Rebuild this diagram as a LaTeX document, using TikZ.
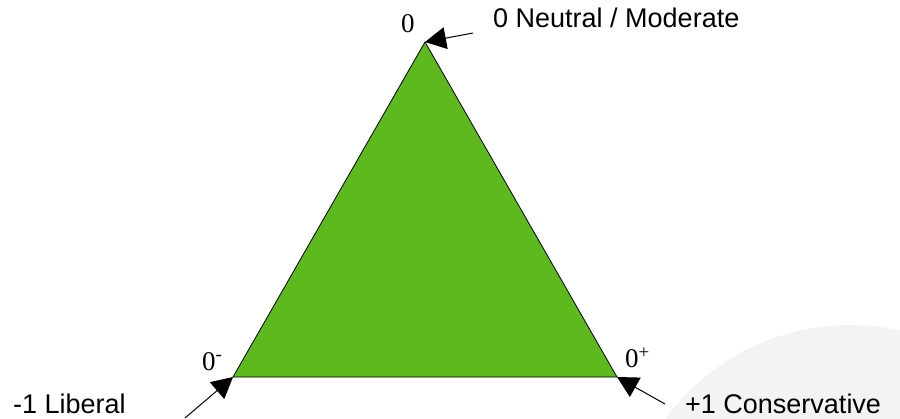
\documentclass[tikz,border=0pt]{standalone}
\usepackage{fontspec}
\setmainfont{Liberation Serif}
\newfontfamily\labsans{Liberation Sans}
\usetikzlibrary{arrows.meta}
\definecolor{trigreen}{HTML}{5EB91F}
\definecolor{bggray}{HTML}{F2F3F5}
\tikzset{
  vlabel/.style={inner sep=0pt, font=\fontsize{27}{32}\selectfont},
  clabel/.style={inner sep=0pt, font=\labsans\fontsize{27}{32}\selectfont, anchor=base west},
  pointer/.style={line width=1pt, -{Triangle[length=21pt,width=22pt]}},
}
\begin{document}
\begin{tikzpicture}[x=1pt,y=1pt]
\useasboundingbox (0,0) rectangle (900,418);
\begin{scope}
  \clip (0,0) rectangle (900,418);
  \fill[bggray] (850,-135) circle[radius=228];
\end{scope}
% triangle vertices
\coordinate (T) at (425,376);
\coordinate (L) at (233,41);
\coordinate (R) at (617,41);
\fill[trigreen, draw=black, line width=0.8pt] (T) -- (L) -- (R) -- cycle;
% vertex labels
\node[vlabel, anchor=base west] (t0) at (401,385) {0};
\node[vlabel, anchor=base west] (l0) at (202,48) {0\textsuperscript{-}};
\node[vlabel, anchor=base west] (r0) at (625,50) {0\textsuperscript{+}};
% category labels
\node[clabel] (neu) at (493,390) {0 Neutral / Moderate};
\node[clabel] (lib) at (13,5) {-1 Liberal};
\node[clabel] (con) at (685,5) {+1 Conservative};
% pointer start points
\coordinate (ps) at (473,385);
\coordinate (ls) at (185,0);
\coordinate (rs) at (665,14);
\draw[pointer] (ps) -- (T);
\draw[pointer] (ls) -- (L);
\draw[pointer] (rs) -- (R);
\end{tikzpicture}
\end{document}
